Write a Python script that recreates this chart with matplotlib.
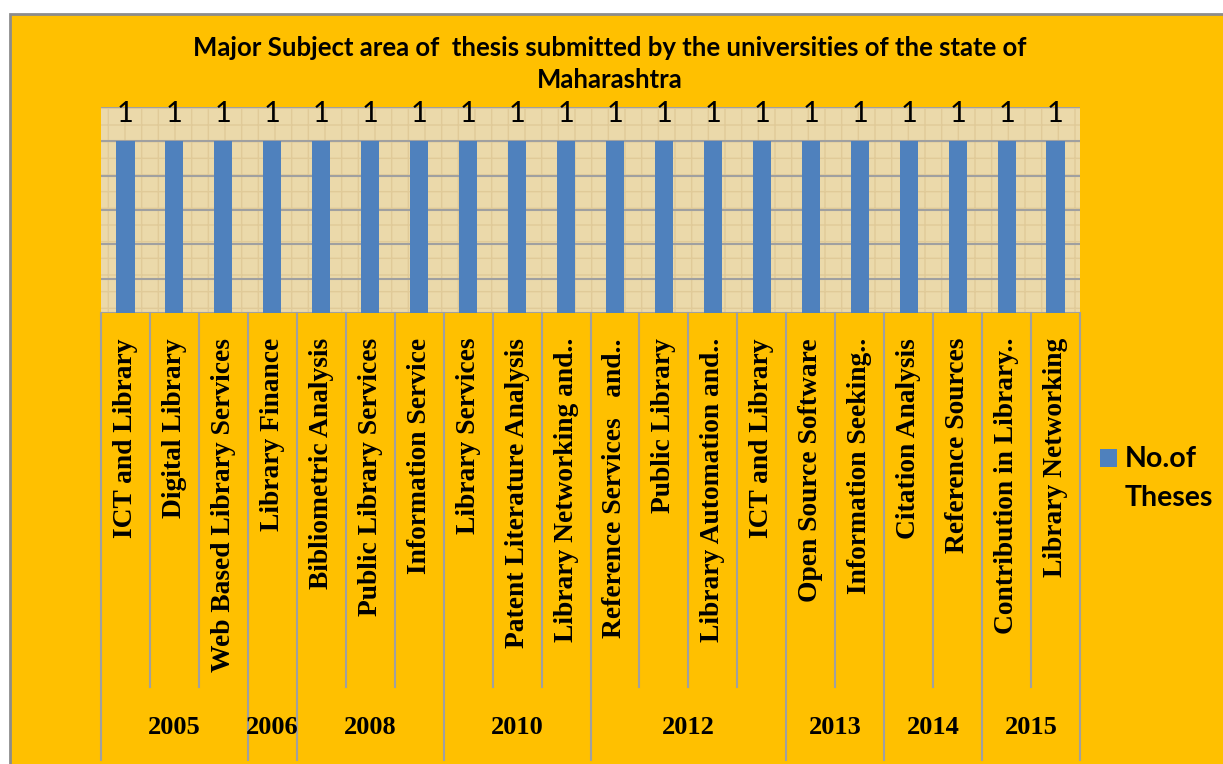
import matplotlib.pyplot as plt
from matplotlib.patches import Rectangle
from matplotlib.transforms import blended_transform_factory

subjects = ['ICT and Library', 'Digital Library', 'Web Based Library Services',
            'Library Finance', 'Bibliometric Analysis', 'Public Library Services',
            'Information Service', 'Library Services', 'Patent Literature Analysis',
            'Library Networking and..', 'Reference Services   and..', 'Public Library',
            'Library Automation and..', 'ICT and Library', 'Open Source Software',
            'Information Seeking..', 'Citation Analysis', 'Reference Sources',
            'Contribution in Library..', 'Library Networking']
theses = [1, 1, 1, 1, 1, 1, 1, 1, 1, 1, 1, 1, 1, 1, 1, 1, 1, 1, 1, 1]
years = ['2005', '2006', '2008', '2010', '2012', '2013', '2014', '2015']
year_counts = [3, 1, 3, 3, 4, 2, 2, 2]

title = 'Major Subject area of  thesis submitted by the universities of the state of\nMaharashtra'
series_name = ['No.of', 'Theses']

W, H = 1223, 764
fig = plt.figure(figsize=(W / 100, H / 100), dpi=100, facecolor='white')

# orange chart area with grey frame (cropped at right/bottom)
fig.patches.append(Rectangle((10 / W, -0.05), 1.1, 1 - 14 / H + 0.05, transform=fig.transFigure,
                             facecolor='#FFC000', edgecolor='#8C8C8C', lw=2, zorder=-10))

left, right, top, bottom = 101, 1080, 107, 313
ax = fig.add_axes([left / W, 1 - bottom / H, (right - left) / W, (bottom - top) / H])
ax.set_facecolor('#EBD9AA')
ax.patch.set_hatch('+')
ax.patch.set_edgecolor('#E0CA98')
ax.patch.set_linewidth(0)

x = list(range(len(subjects)))
bars = ax.bar(x, theses, width=0.37, color='#4F81BD', zorder=3)
ax.set_xlim(-0.5, len(subjects) - 0.5)
ax.set_ylim(0, 1.2)
ax.set_yticks([0, 0.2, 0.4, 0.6, 0.8, 1.0, 1.2])
ax.yaxis.grid(True, color='#A0A0A0', lw=1.5, zorder=1)
ax.set_axisbelow(True)
ax.tick_params(left=False, bottom=False, labelleft=False, labelbottom=False)
for s in ax.spines.values():
    s.set_visible(False)

ax.bar_label(bars, labels=[str(v) for v in theses], padding=10,
             fontsize=21, fontfamily='Lato', color='black')

# category axis: separators, rotated labels, year groups
trans = blended_transform_factory(ax.transData, fig.transFigure)
y_axis = 1 - bottom / H
y_inner = 1 - 687 / H
y_outer = 1 - 760 / H
bounds = [0]
for c in year_counts:
    bounds.append(bounds[-1] + c)
for k in range(len(subjects) + 1):
    yb = y_outer if k in bounds else y_inner
    ax.plot([k - 0.5, k - 0.5], [y_axis, yb], transform=trans, color='#A0A0A0',
            lw=1.5, clip_on=False)

for i, s in enumerate(subjects):
    ax.text(i, 1 - 338 / H, s, transform=trans, rotation=90, ha='center', va='top',
            fontsize=19.8, fontweight='bold', fontfamily='Liberation Serif')

for j, yr in enumerate(years):
    xc = (bounds[j] + bounds[j + 1] - 1) / 2
    ax.text(xc, 1 - 727 / H, yr, transform=trans, ha='center', va='center',
            fontsize=19, fontweight='bold', fontfamily='Liberation Serif')

fig.text(610 / W, 1 - 64 / H, title, ha='center', va='center', fontsize=18.5,
         fontweight='bold', fontfamily='Lato', linespacing=1.35)

# legend
fig.patches.append(Rectangle((1100 / W, 1 - 467 / H), 17 / W, 18 / H, transform=fig.transFigure,
                             facecolor=bars[0].get_facecolor(), edgecolor='none'))
for line, base in zip(series_name, [467, 506]):
    fig.text(1125 / W, 1 - base / H, line, ha='left', va='baseline', fontsize=20.5,
             fontweight='bold', fontfamily='Lato')

fig.savefig('out.png', dpi=100, facecolor='white')
